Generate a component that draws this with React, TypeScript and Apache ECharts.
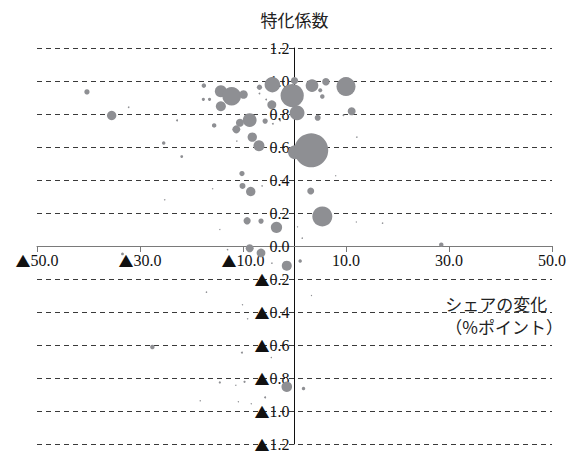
import React, { useEffect, useRef } from "react";
import * as echarts from "echarts";

// Change in share (percentage points) for each industry
const shareChange = [
  -40.3, -35.5, -32.2, -22.8, -25.4, -21.9, -25.2, -17.6, -17.7, -16.5,
  -15.6, -14.3, -12.2, -14.3, -9.9, -6.8, -6.8, -4.3, 0.0, -0.45,
  0.5, -4.4, -5.5, -5.7, -4.2, -2.8, -8.7, -10.6, -11.3, -8.2,
  -6.9, -11.2, 0.1, 3.25, 3.4, 6.1, 10.0, 5.0, 5.4, 4.5,
  11.1, 9.5, 12.1, 8.0, 3.15, 5.4, 12.0, 17.1, 1.5, 28.5,
  -10.2, -10.1, -8.5, -6.3, -15.9, -9.2, -6.5, -3.5, -14.5, 0.6,
  -8.7, -6.5, -1.5, 1.1, -4.4, -13.0, -17.1, -10.1, 3.3, -9.1,
  -27.6, -10.2, -14.5, -9.7, -11.4, -1.5, 1.75, -5.7, -18.3, -10.9,
  -33.4, -4.5, -8.4,
];

// Specialization coefficient
const specialization = [
  0.934, 0.791, 0.841, 0.761, 0.624, 0.542, 0.28, 0.972, 0.889, 0.889,
  0.731, 0.938, 0.908, 0.847, 0.918, 0.962, 0.924, 0.978, 1.002, 0.912,
  0.807, 0.856, 0.888, 0.757, 0.741, 0.761, 0.763, 0.747, 0.707, 0.66,
  0.607, 0.636, 0.568, 0.58, 0.972, 0.996, 0.966, 0.944, 0.906, 0.777,
  0.817, 0.793, 0.66, 0.426, 0.334, 0.179, 0.145, 0.139, 0.048, 0.008,
  0.439, 0.364, 0.33, 0.364, 0.347, 0.153, 0.151, 0.113, 0.1, 0.116,
  -0.014, -0.042, -0.119, -0.091, -0.104, -0.022, -0.28, -0.356, -0.3, -0.441,
  -0.612, -0.646, -0.827, -0.823, -0.844, -0.853, -0.864, -0.918, -0.938, -0.944,
  -0.048, -0.676, -0.956,
];

// Relative weight of each industry (bubble area)
const weight = [
  7, 22, 0.6, 1, 3, 2, 0.5, 5, 2.5, 2.5,
  5, 36, 86, 25, 18, 7, 0.8, 60, 13, 135,
  55, 20, 0.8, 7, 0.8, 0.8, 48, 16, 16, 22,
  30, 0.5, 49, 289, 40, 14, 90, 4, 5, 9,
  16, 0.8, 0.6, 0.4, 12, 100, 0.4, 0.6, 0.6, 5,
  7, 9, 22, 0.6, 0.5, 13, 7, 32, 0.4, 0.4,
  16, 19, 25, 3, 0.6, 0.6, 0.6, 0.5, 0.4, 0.5,
  5, 1, 1.2, 1.2, 0.5, 28, 3, 1, 0.5, 0.5,
  2, 0.5, 0.5,
];

// Tick positions on the horizontal axis
const xTickValues = [-50, -30, -10, 10, 30, 50];
const X_MIN = -50;
const X_MAX = 50;
const Y_MIN = -1.2;
const Y_MAX = 1.2;
const Y_STEP = 0.2;

const yAxisTitle = "特化係数";
const xAxisTitle = "シェアの変化\n（%ポイント）";

// Negative numbers are written with a leading triangle
const formatSigned = (v: number) => {
  const r = Math.round(v * 10) / 10;
  const num = Math.abs(r).toFixed(1);
  return r < 0 ? "{tri|▲}" + num : num;
};

const serif = "Liberation Serif";
const cjk = "Noto Sans CJK JP";

const WIDTH = 575;
const HEIGHT = 454;
const GRID = { left: 37, right: 23, top: 48, bottom: 10 };

const labelStyle = {
  fontFamily: serif,
  fontSize: 16,
  lineHeight: 15,
  color: "#111",
  rich: {
    tri: { fontFamily: cjk, fontSize: 15, lineHeight: 15, color: "#111" },
  },
};

export default function App() {
  const ref = useRef<HTMLDivElement>(null);

  useEffect(() => {
    document.body.style.margin = "0";
    if (!ref.current) return;
    const chart = echarts.init(ref.current, undefined, { renderer: "svg" });

    const data = shareChange.map((x, i) => [x, specialization[i], weight[i]]);

    // Both axes cross in the middle of the plot: shift them inwards by half the grid
    const halfW = (WIDTH - GRID.left - GRID.right) / 2;
    const halfH = (HEIGHT - GRID.top - GRID.bottom) / 2;

    chart.setOption({
      animation: false,
      backgroundColor: "#ffffff",
      grid: GRID,
      xAxis: {
        type: "value",
        min: X_MIN,
        max: X_MAX,
        position: "bottom",
        offset: -halfH,
        axisLine: {
          onZero: false,
          lineStyle: { color: "#7a7a7a", width: 1 },
        },
        axisTick: {
          show: true,
          length: 6,
          customValues: xTickValues,
          lineStyle: { color: "#7a7a7a" },
        },
        axisLabel: {
          ...labelStyle,
          customValues: xTickValues,
          formatter: (v: number) => formatSigned(v),
          margin: 7,
        },
        splitLine: { show: false },
      },
      yAxis: {
        type: "value",
        min: Y_MIN,
        max: Y_MAX,
        interval: Y_STEP,
        position: "left",
        offset: -halfW,
        name: yAxisTitle,
        nameLocation: "end",
        nameGap: 20,
        nameTextStyle: { fontFamily: cjk, fontSize: 17, color: "#222" },
        axisLine: {
          onZero: false,
          lineStyle: { color: "#111", width: 1 },
        },
        axisTick: { show: false },
        axisLabel: {
          ...labelStyle,
          formatter: (v: number) => formatSigned(v),
          margin: 5,
        },
        splitLine: {
          show: true,
          lineStyle: { type: [5, 4], color: "#3a3a3a", width: 1 },
        },
      },
      series: [
        {
          type: "scatter",
          data,
          symbol: "circle",
          symbolSize: (d: number[]) => 2 * Math.sqrt(d[2]),
          itemStyle: { color: "#8e8f93", opacity: 1 },
          silent: true,
        },
      ],
      graphic: [
        {
          type: "text",
          right: 12,
          top: 292,
          style: {
            text: xAxisTitle,
            align: "right",
            fontFamily: cjk,
            fontSize: 17,
            lineHeight: 23,
            fill: "#222",
          },
        },
      ],
    });

    return () => chart.dispose();
  }, []);

  return <div ref={ref} style={{ width: WIDTH, height: HEIGHT }} />;
}
